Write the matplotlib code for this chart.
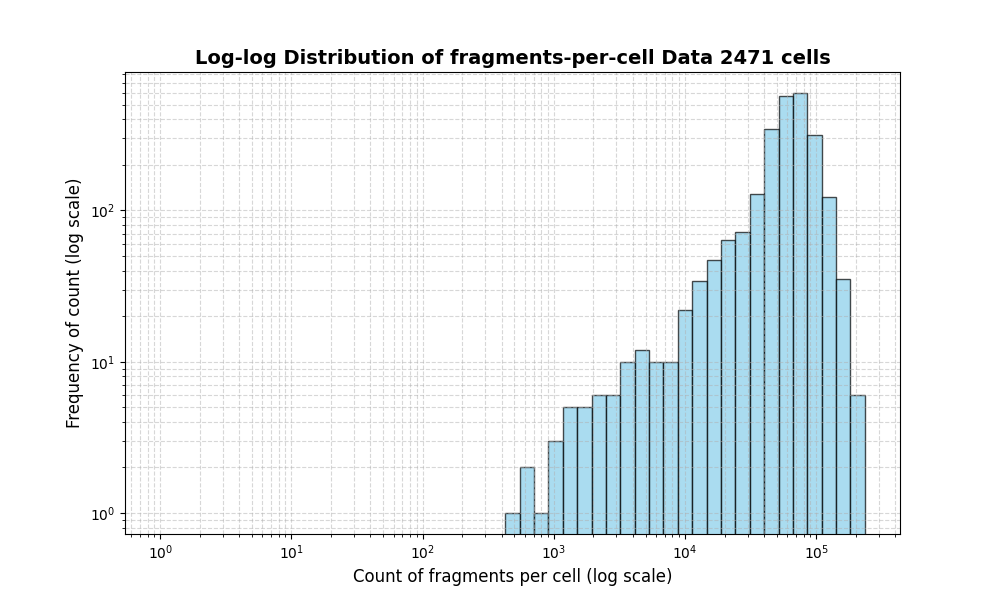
import numpy as np
import matplotlib
matplotlib.use("Agg")
import matplotlib.pyplot as plt

# Histogram data
max_fragments = 234000          # largest fragments-per-cell value (upper bin edge)
n_bins = 49                     # log-spaced bins from 1 to max_fragments
bin_counts = [0] * 24 + [
    1, 2, 1, 3, 5, 5, 6, 6, 10, 12, 10, 10,
    22, 34, 47, 64, 72, 129, 346, 574, 598, 314, 123, 35, 6,
]
n_cells = 2471

edges = np.logspace(0, np.log10(max_fragments), n_bins + 1)
centers = np.sqrt(edges[:-1] * edges[1:])

fig, ax = plt.subplots(figsize=(10, 6), dpi=100)
ax.hist(centers, bins=edges, weights=bin_counts, color="skyblue",
        edgecolor="black", alpha=0.7, log=True)
ax.set_xscale("log")
ax.set_title(f"Log-log Distribution of fragments-per-cell Data {n_cells} cells",
             fontsize=14, fontweight="bold")
ax.set_xlabel("Count of fragments per cell (log scale)", fontsize=12)
ax.set_ylabel("Frequency of count (log scale)", fontsize=12)
ax.grid(True, which="both", ls="--", alpha=0.5)
fig.savefig("out.png")
